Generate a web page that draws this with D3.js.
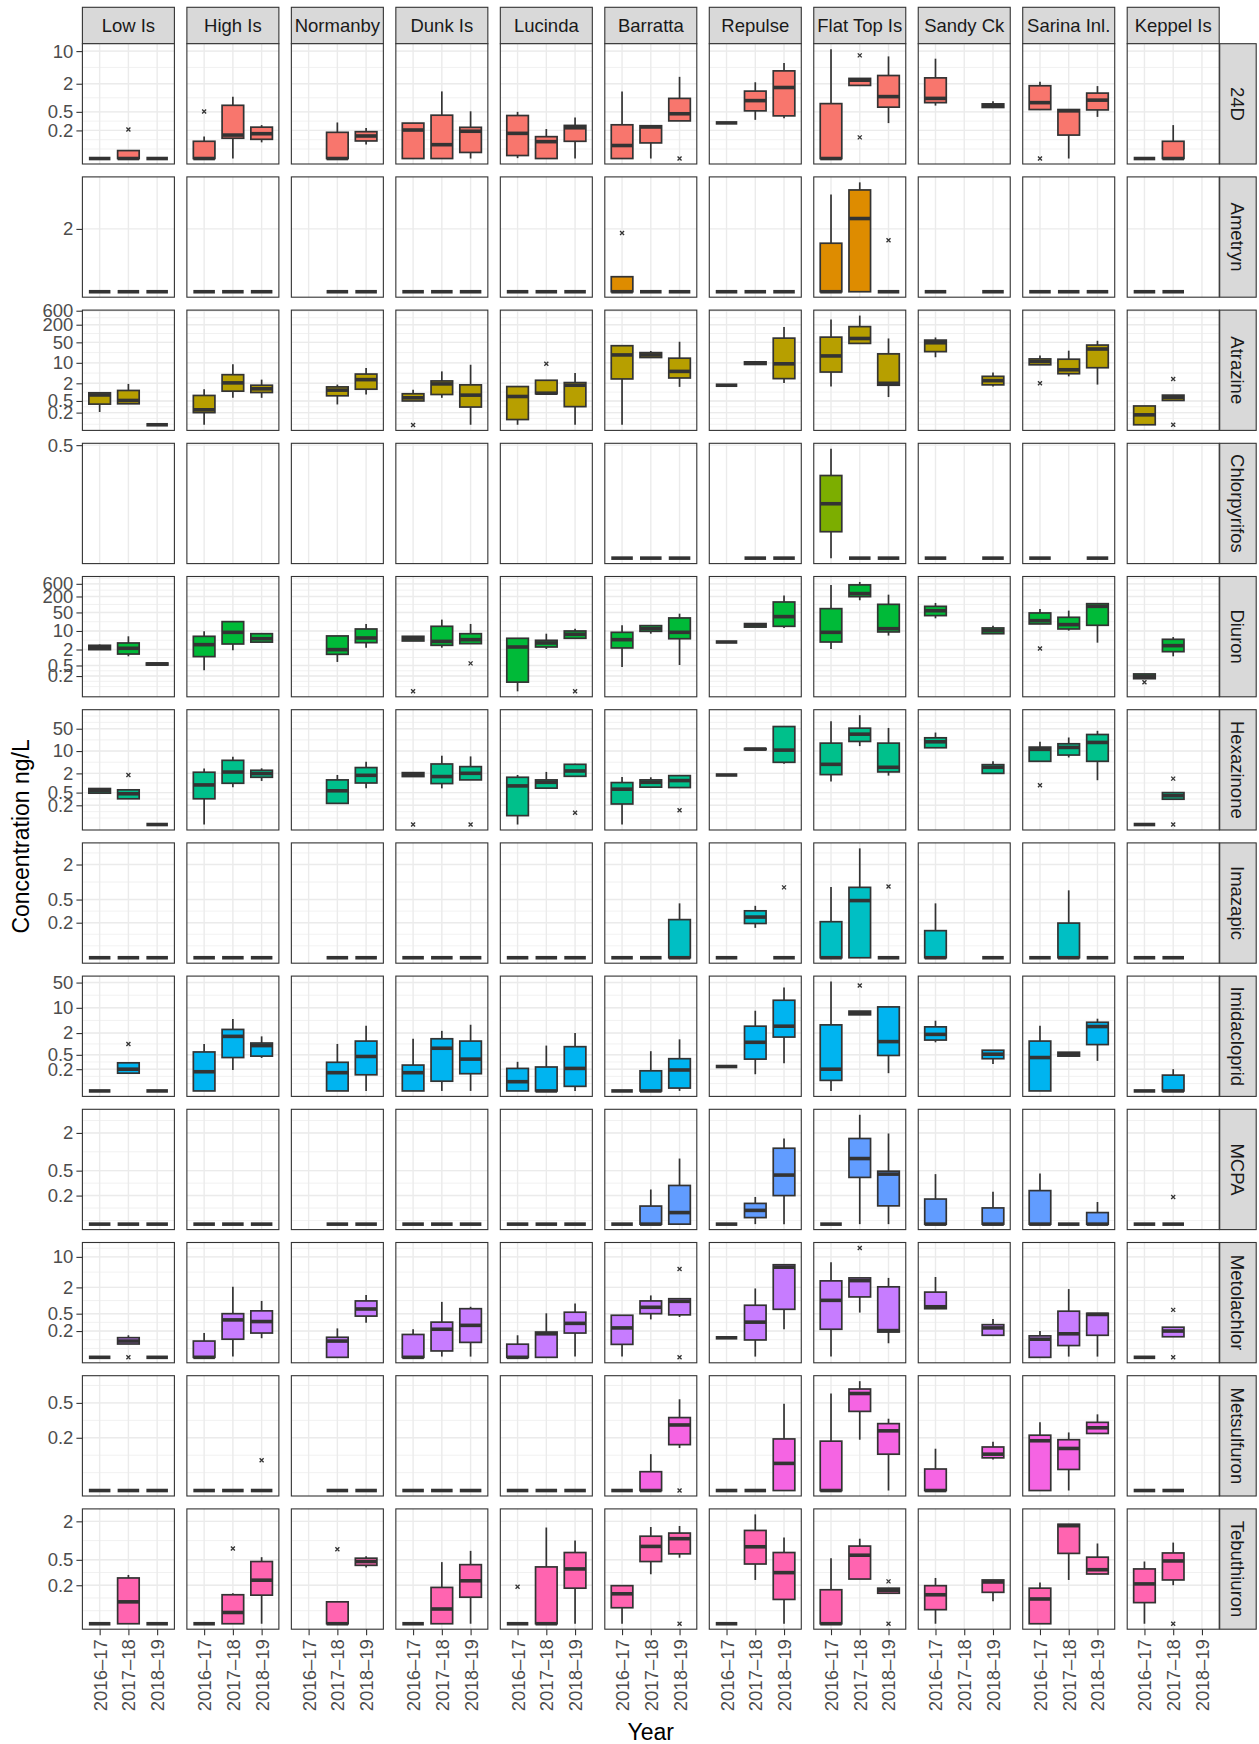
<!DOCTYPE html>
<html>
<head>
<meta charset="utf-8">
<script src="https://cdn.jsdelivr.net/npm/d3@7"></script>
<style>
  body { margin: 0; background: #ffffff; }
  svg { display: block; }
</style>
</head>
<body>
<script>
// ---------- categories ----------
const sites = ["Low Is", "High Is", "Normanby", "Dunk Is", "Lucinda", "Barratta",
               "Repulse", "Flat Top Is", "Sandy Ck", "Sarina Inl.", "Keppel Is"];
const years = ["2016–17", "2017–18", "2018–19"];
const analytes = ["24D", "Ametryn", "Atrazine", "Chlorpyrifos", "Diuron", "Hexazinone",
                  "Imazapic", "Imidacloprid", "MCPA", "Metolachlor", "Metsulfuron", "Tebuthiuron"];
const fillColours = ["#F8766D", "#DE8C00", "#B79F00", "#7CAE00", "#00BA38", "#00C08B",
                     "#00BFC4", "#00B4F0", "#619CFF", "#C77CFF", "#F564E3", "#FF64B0"];
const yBreaks = [0.2, 0.5, 2, 10, 50, 200, 600];

// ---------- box statistics (ng/L) ----------
// One row per site, one entry per year:
//   null   -> not sampled
//   number -> every sample at that value
//   [lower whisker, Q1, median, Q3, upper whisker, outliers?]
const s24D = [
  [0.05, [0.05,0.05,0.05,0.074,0.074,[0.21]], 0.05],
  [[0.05,0.05,0.05,0.117,0.149,[0.51]], [0.05,0.136,0.159,0.69,1.05], [0.111,0.129,0.17,0.235,0.26]],
  [null, [0.05,0.05,0.05,0.182,0.296], [0.10,0.119,0.152,0.188,0.226]],
  [[0.05,0.05,0.204,0.287,0.287], [0.05,0.05,0.099,0.424,1.37], [0.05,0.0675,0.192,0.233,0.514]],
  [[0.051,0.058,0.173,0.417,0.50], [0.05,0.05,0.115,0.147,0.214], [0.05,0.117,0.228,0.256,0.378]],
  [[0.05,0.05,0.095,0.264,1.37], [0.05,0.108,0.237,0.252,0.252], [0.32,0.32,0.455,0.97,2.81,[0.05]]],
  [0.29, [0.337,0.525,0.87,1.39,2.15], [0.365,0.41,1.66,3.77,5.56]],
  [[0.05,0.05,0.05,0.75,11.0], [1.84,1.84,2.38,2.6,2.6,[8.1,0.142]], [0.287,0.63,1.06,3.0,7.7]],
  [[0.68,0.787,0.97,2.67,6.88], null, [0.62,0.62,0.68,0.74,0.84]],
  [[0.56,0.56,0.787,1.81,2.2,[0.05]], [0.05,0.159,0.525,0.56,0.56], [0.39,0.55,0.89,1.26,1.78]],
  [0.05, [0.05,0.05,0.05,0.117,0.26], null]
];
const sAmetryn = [
  [0.6,0.6,0.6], [0.6,0.6,0.6], [null,0.6,0.6], [0.6,0.6,0.6], [0.6,0.6,0.6],
  [[0.6,0.6,0.6,0.8,0.8,[1.85]], 0.6, 0.6],
  [0.6,0.6,0.6],
  [[0.6,0.6,0.6,1.52,3.86], [0.6,0.6,2.44,4.22,4.88], [0.6,0.6,0.6,0.6,0.6,[1.61]]],
  [0.6,null,0.6], [0.6,0.6,0.6], [0.6,0.6,null]
];
const sAtrazine = [
  [[0.21,0.39,0.80,0.95,0.95], [0.40,0.40,0.52,1.14,1.91], 0.077],
  [[0.077,0.20,0.25,0.77,1.26], [0.64,1.08,2.07,3.94,9.0], [0.64,0.97,1.30,1.72,2.67]],
  [null, [0.38,0.75,1.17,1.51,1.81], [0.83,1.26,2.67,4.14,6.6]],
  [[0.50,0.50,0.64,0.88,1.20,[0.076]], [0.64,0.83,1.91,2.41,5.1], [0.077,0.31,0.79,1.77,8.6]],
  [[0.077,0.116,0.71,1.55,1.55], [0.88,0.88,0.92,2.54,2.54,[9.25]], [0.077,0.32,1.72,2.12,4.5]],
  [[0.077,2.82,18.6,38.4,40], [15.2,15.2,18.6,22.3,25.4], [1.51,3.04,5.1,14.4,52.4]],
  [1.72, [8.8,8.8,9.74,10.8,10.8], [2.07,2.89,9.25,69.6,167]],
  [[1.55,4.85,17.2,75.3,303], [46,46,67.8,172,410], [0.68,1.72,2.0,20.2,67.8]],
  [[15.5,24.1,48.4,59.6,73.4], null, [1.55,1.77,2.47,3.46,4.7]],
  [[8.57,8.57,11.1,13.6,17.7,[2.0]], [3.46,4.25,5.8,13.3,26], [1.81,6.8,29.6,40.4,56.5]],
  [[0.077,0.077,0.168,0.337,0.337], [0.52,0.52,0.66,0.79,0.79,[2.8,0.077]], null]
];
const sChlorpyrifos = [
  [null,null,null], [null,null,null], [null,null,null], [null,null,null], [null,null,null],
  [0.25,0.25,0.25],
  [null,0.25,0.25],
  [[0.25,0.294,0.349,0.415,0.489], 0.25, 0.25],
  [0.25,null,0.25],
  [0.25,null,0.25],
  [null,null,null]
];
const sDiuron = [
  [[1.98,1.98,2.35,2.88,3.1], [1.11,1.35,2.22,3.53,6.3], [0.52,0.52,0.57,0.62,0.62]],
  [[0.33,1.08,3.05,6.29,9.7], [1.87,3.23,8.9,22.5,22.5], [3.8,3.8,5.1,7.9,8.4]],
  [null, [0.68,1.32,1.98,6.5,6.5], [2.35,3.63,5.45,11.9,18.4]],
  [[4.2,4.2,5.1,6.29,6.29,[0.053]], [2.35,2.88,4.06,15,26.8], [3.33,3.33,4.71,7.9,18.4,[0.6]]],
  [[0.053,0.118,2.49,5.3,5.3], [2.1,2.49,3.53,4.45,7.9], [5.3,5.3,7.5,10,12.2,[0.053]]],
  [[0.44,2.29,4.7,8.9,16.4], [7.9,9.7,12.2,15.9,15.9], [0.52,5.1,8.9,31,45]],
  [3.84, [14,14,16.9,19,19], [13,15,34.8,124,216]],
  [[2.1,3.84,8.9,69.6,547], [144,197,257,547,705], [6.7,9.2,12.2,101,234]],
  [[30,38,58,85,114], null, [7.9,7.9,10.3,13,15.9]],
  [[18.4,18.4,24.5,47.8,67.8,[2.2]], [10.3,11.9,17.4,32.8,58.6], [3.63,16.4,85,107,107]],
  [[0.159,0.159,0.195,0.24,0.24,[0.117]], [1.11,1.66,2.8,4.85,5.9], null]
];
const sHexazinone = [
  [[0.48,0.48,0.57,0.67,0.67], [0.32,0.32,0.46,0.61,0.61,[1.78]], 0.05],
  [[0.05,0.32,0.87,2.17,2.82], [0.74,0.98,2.2,5.12,6.66], [1.16,1.51,1.97,2.5,2.88]],
  [null, [0.23,0.23,0.57,1.25,1.78], [0.69,1.0,1.74,3.04,4.66]],
  [[1.59,1.59,1.83,2.11,2.11,[0.05]], [0.68,0.96,1.59,3.94,7.15], [1.25,1.25,2.01,3.25,6.8,[0.05]]],
  [[0.05,0.095,0.81,1.51,1.78], [0.69,0.69,1.05,1.25,2.22], [1.62,1.62,2.38,3.84,4.0,[0.117]]],
  [[0.05,0.22,0.64,1.03,1.55], [0.74,0.74,1.05,1.25,1.51], [0.72,0.72,1.19,1.70,1.78,[0.14]]],
  [1.78, [11,11,11.5,12,12], [4.0,4.44,10.7,58.6,58.6]],
  [[1.11,1.83,3.84,17.7,86], [14.3,20,33.8,52,133], [1.70,2.22,3.1,17.7,53]],
  [[12.7,12.7,19.5,26,38], null, [2.0,2.0,3.1,3.75,4.8]],
  [[4.77,4.77,11.3,13.3,19.5,[0.85]], [6.3,7.5,13,16.9,26.6], [1.22,4.77,18.6,33,43]],
  [0.05, [0.31,0.31,0.4,0.5,0.5,[1.37,0.05]], null]
];
const sImazapic = [
  [0.05,0.05,0.05], [0.05,0.05,0.05], [null,0.05,0.05], [0.05,0.05,0.05], [0.05,0.05,0.05],
  [0.05, 0.05, [0.05,0.05,0.05,0.226,0.43]],
  [0.05, [0.163,0.194,0.25,0.32,0.39], [0.05,0.05,0.05,0.05,0.05,[0.81]]],
  [[0.05,0.05,0.05,0.208,0.82], [0.05,0.05,0.48,0.81,3.79], [0.05,0.05,0.05,0.05,0.05,[0.84]]],
  [[0.05,0.05,0.05,0.146,0.43], null, 0.05],
  [0.05, [0.05,0.05,0.05,0.197,0.72], 0.05],
  [0.05, 0.05, null]
];
const sImidacloprid = [
  [0.05, [0.155,0.155,0.20,0.30,0.30,[1.0]], 0.05],
  [[0.05,0.05,0.17,0.6,1.0], [0.19,0.42,1.62,2.52,4.9], [0.41,0.46,0.9,1.06,1.62]],
  [null, [0.05,0.05,0.16,0.31,1.0], [0.05,0.14,0.45,1.2,3.2]],
  [[0.05,0.05,0.16,0.26,1.39], [0.05,0.093,0.76,1.39,2.3], [0.05,0.15,0.38,1.2,3.4]],
  [[0.05,0.05,0.09,0.21,0.32], [0.05,0.05,0.05,0.23,0.9], [0.05,0.067,0.21,0.84,2.0]],
  [0.05, [0.05,0.05,0.05,0.18,0.63], [0.05,0.06,0.19,0.39,1.34]],
  [0.237, [0.145,0.38,1.11,3.1,8.3], [0.29,1.55,3.1,16.2,36.6]],
  [[0.05,0.098,0.2,3.37,53.3], [6.4,6.4,7.3,8.1,8.1,[41.5]], [0.155,0.48,1.16,10.6,10.6]],
  [[1.11,1.28,1.84,2.97,4.4], null, [0.28,0.39,0.52,0.67,0.67]],
  [[0.05,0.05,0.42,1.2,3.2], [0.46,0.46,0.52,0.59,0.59], [0.34,0.96,3.03,3.98,5.0]],
  [0.05, [0.05,0.05,0.05,0.137,0.2], null]
];
const sMCPA = [
  [0.07,0.07,0.07], [0.07,0.07,0.07], [null,0.07,0.07], [0.07,0.07,0.07], [0.07,0.07,0.07],
  [0.07, [0.07,0.07,0.07,0.136,0.25], [0.07,0.07,0.107,0.29,0.78]],
  [0.07, [0.07,0.089,0.116,0.15,0.19], [0.07,0.2,0.425,1.14,1.63]],
  [0.07, [0.07,0.39,0.78,1.63,3.9], [0.07,0.137,0.44,0.49,1.96]],
  [[0.07,0.07,0.07,0.176,0.44], null, [0.07,0.07,0.07,0.127,0.23]],
  [[0.07,0.07,0.07,0.24,0.45], 0.07, [0.07,0.07,0.07,0.107,0.158]],
  [0.07, [0.07,0.07,0.07,0.07,0.07,[0.19]], null]
];
const sMetolachlor = [
  [0.05, [0.101,0.101,0.118,0.141,0.16,[0.05]], 0.05],
  [[0.05,0.05,0.05,0.118,0.18], [0.052,0.13,0.36,0.5,2.06], [0.137,0.18,0.33,0.58,0.98]],
  [null, [0.05,0.05,0.118,0.144,0.23], [0.31,0.44,0.64,0.98,1.34]],
  [[0.05,0.05,0.05,0.167,0.22], [0.052,0.07,0.22,0.32,0.93], [0.052,0.11,0.27,0.65,0.72]],
  [[0.05,0.05,0.05,0.1,0.16], [0.05,0.05,0.173,0.19,0.51], [0.052,0.18,0.30,0.54,0.85]],
  [[0.052,0.099,0.236,0.46,0.46], [0.37,0.50,0.70,0.98,1.31], [0.42,0.47,0.96,1.1,1.1,[5.3,0.05]]],
  [0.14, [0.052,0.125,0.32,0.78,1.89], [0.22,0.63,5.8,6.6,6.6]],
  [[0.052,0.22,1.01,2.82,7.57], [0.53,1.21,2.86,3.3,3.3,[16]], [0.105,0.19,0.205,2.06,3.3]],
  [[0.65,0.65,0.72,1.56,3.46], null, [0.16,0.16,0.236,0.28,0.38]],
  [[0.05,0.05,0.13,0.155,0.2], [0.052,0.093,0.173,0.57,1.83], [0.052,0.16,0.48,0.51,0.51]],
  [0.05, [0.148,0.148,0.2,0.245,0.245,[0.61,0.05]], null]
];
const sMetsulfuron = [
  [0.05,0.05,0.05],
  [0.05, 0.05, [0.05,0.05,0.05,0.05,0.05,[0.111]]],
  [null,0.05,0.05],
  [0.05,0.05,0.05], [0.05,0.05,0.05],
  [0.05, [0.05,0.05,0.05,0.082,0.13], [0.153,0.167,0.28,0.34,0.55,[0.05]]],
  [0.05, 0.05, [0.05,0.05,0.102,0.194,0.49]],
  [[0.05,0.05,0.05,0.183,0.64], [0.19,0.4,0.64,0.72,0.885], [0.05,0.13,0.24,0.29,0.33]],
  [[0.05,0.05,0.05,0.088,0.15], null, [0.113,0.118,0.13,0.157,0.18]],
  [[0.05,0.05,0.185,0.214,0.30], [0.05,0.087,0.151,0.19,0.23], [0.224,0.224,0.26,0.30,0.37]],
  [0.05, 0.05, null]
];
const sTebuthiuron = [
  [0.05, [0.05,0.05,0.11,0.26,0.29], 0.05],
  [0.05, [0.05,0.05,0.075,0.142,0.15,[0.75]], [0.05,0.14,0.24,0.47,0.55]],
  [null, [0.05,0.05,0.05,0.11,0.11,[0.73]], [0.38,0.41,0.47,0.53,0.57]],
  [0.05, [0.05,0.05,0.085,0.185,0.46], [0.05,0.13,0.235,0.42,0.69]],
  [[0.05,0.05,0.05,0.05,0.05,[0.19]], [0.05,0.05,0.05,0.387,1.6], [0.05,0.18,0.36,0.65,1.0]],
  [[0.05,0.089,0.147,0.197,0.197], [0.297,0.47,0.81,1.17,1.63], [0.54,0.62,1.07,1.31,1.69,[0.05]]],
  [0.05, [0.242,0.43,0.80,1.44,2.57], [0.05,0.12,0.315,0.65,1.12]],
  [[0.05,0.05,0.05,0.17,0.53], [0.25,0.25,0.59,0.82,1.07], [0.15,0.15,0.167,0.18,0.18,[0.23,0.05]]],
  [[0.05,0.083,0.142,0.197,0.26], null, [0.112,0.155,0.225,0.242,0.242]],
  [[0.05,0.05,0.122,0.18,0.22], [0.242,0.63,1.71,1.8,1.8], [0.30,0.30,0.35,0.55,0.90]],
  [[0.05,0.107,0.21,0.36,0.47], [0.2,0.242,0.48,0.64,0.93,[0.05]], null]
];

const statsByAnalyte = [s24D, sAmetryn, sAtrazine, sChlorpyrifos, sDiuron, sHexazinone,
                        sImazapic, sImidacloprid, sMCPA, sMetolachlor, sMetsulfuron, sTebuthiuron];

// ---------- layout ----------
const W = 1259, H = 1744;
const FONT = "'Liberation Sans', Arial, Helvetica, sans-serif";
const panelX0 = 82.4, panelW = 92, colStep = 104.48;
const panelY0 = 43.7, panelH = 120.3, rowStep = 133.2;
const stripTopY = 7.3, stripTopH = 36.4, stripRightW = 36.5;
const ink = "#333333", gridCol = "#EBEBEB";

const svg = d3.select("body").append("svg")
  .attr("width", W).attr("height", H)
  .style("font-family", FONT);

const x = d3.scalePoint().domain(years).range([0, panelW]).padding(0.6);
const boxW = x.step() * 0.75;

function unpack(e) {
  if (e == null) return null;
  if (typeof e === "number") return { lo: e, q1: e, med: e, q3: e, hi: e, out: [] };
  return { lo: e[0], q1: e[1], med: e[2], q3: e[3], hi: e[4], out: e[5] || [] };
}

// minor breaks halfway between major breaks (in log space), extended one step past the ends
function minorBreaks(majors, lo, hi) {
  const b = majors.slice();
  if (b.length < 2) return [];
  const bd = b[1] - b[0];
  if (lo < b[0]) b.unshift(b[0] - bd);
  if (hi > b[b.length - 1]) b.push(b[b.length - 1] + bd);
  const out = [];
  for (let i = 0; i < b.length - 1; i++) out.push(b[i], (b[i] + b[i + 1]) / 2);
  out.push(b[b.length - 1]);
  return out.filter(v => v >= lo && v <= hi);
}

// ---------- top strips ----------
sites.forEach((site, c) => {
  const px = panelX0 + c * colStep;
  svg.append("rect")
    .attr("x", px).attr("y", stripTopY).attr("width", panelW).attr("height", stripTopH)
    .attr("fill", "#D9D9D9").attr("stroke", ink).attr("stroke-width", 1.1);
  svg.append("text")
    .attr("x", px + panelW / 2).attr("y", stripTopY + stripTopH / 2)
    .attr("text-anchor", "middle").attr("dominant-baseline", "central")
    .attr("fill", "#1A1A1A").style("font-size", "18.5px")
    .text(site);
});

// ---------- rows ----------
analytes.forEach((analyte, r) => {
  const stats = statsByAnalyte[r];
  const py = panelY0 + r * rowStep;

  // free y scale per row: data extent on a log axis, widened 5% each side
  const vals = [];
  stats.forEach(site => site.forEach(e => {
    const b = unpack(e);
    if (b) vals.push(b.lo, b.hi, ...b.out);
  }));
  const [mn, mx] = d3.extent(vals);
  const l0 = Math.log10(mn), l1 = Math.log10(mx), pad = (l1 - l0) * 0.05;
  const lo = l0 - pad, hi = l1 + pad;
  const y = d3.scaleLog().domain([10 ** lo, 10 ** hi]).range([panelH, 0]);
  const majors = yBreaks.filter(v => Math.log10(v) >= lo && Math.log10(v) <= hi);
  const minors = minorBreaks(majors.map(v => Math.log10(v)), lo, hi);

  sites.forEach((site, c) => {
    const px = panelX0 + c * colStep;
    const g = svg.append("g").attr("transform", `translate(${px},${py})`);

    g.append("rect").attr("width", panelW).attr("height", panelH).attr("fill", "#fff");

    g.selectAll("line.minor").data(minors).join("line")
      .attr("x1", 0).attr("x2", panelW)
      .attr("y1", d => y(10 ** d)).attr("y2", d => y(10 ** d))
      .attr("stroke", gridCol).attr("stroke-width", 0.7);
    g.selectAll("line.major").data(majors).join("line")
      .attr("x1", 0).attr("x2", panelW)
      .attr("y1", d => y(d)).attr("y2", d => y(d))
      .attr("stroke", gridCol).attr("stroke-width", 1.4);
    g.selectAll("line.vgrid").data(years).join("line")
      .attr("x1", d => x(d)).attr("x2", d => x(d))
      .attr("y1", 0).attr("y2", panelH)
      .attr("stroke", gridCol).attr("stroke-width", 1.4);

    const boxes = stats[c].map((e, i) => ({ year: years[i], b: unpack(e) })).filter(d => d.b);

    boxes.forEach(({ year, b }) => {
      const cx = x(year);
      const bg = g.append("g");
      // outliers
      b.out.forEach(v => {
        bg.append("path")
          .attr("transform", `translate(${cx},${y(v)})`)
          .attr("d", "M-2,-2L2,2M-2,2L2,-2")
          .attr("stroke", ink).attr("stroke-width", 1.3).attr("fill", "none");
      });
      // whiskers
      bg.append("line").attr("x1", cx).attr("x2", cx)
        .attr("y1", y(b.hi)).attr("y2", y(b.q3))
        .attr("stroke", ink).attr("stroke-width", 1.7);
      bg.append("line").attr("x1", cx).attr("x2", cx)
        .attr("y1", y(b.q1)).attr("y2", y(b.lo))
        .attr("stroke", ink).attr("stroke-width", 1.7);
      // box
      bg.append("rect")
        .attr("x", cx - boxW / 2).attr("width", boxW)
        .attr("y", y(b.q3)).attr("height", Math.max(0, y(b.q1) - y(b.q3)))
        .attr("fill", fillColours[r]).attr("stroke", ink).attr("stroke-width", 1.7);
      // median
      bg.append("line")
        .attr("x1", cx - boxW / 2).attr("x2", cx + boxW / 2)
        .attr("y1", y(b.med)).attr("y2", y(b.med))
        .attr("stroke", ink).attr("stroke-width", 3.6);
    });

    g.append("rect").attr("width", panelW).attr("height", panelH)
      .attr("fill", "none").attr("stroke", ink).attr("stroke-width", 1.1);

    // left axis on first column
    if (c === 0) {
      const ax = g.append("g").call(
        d3.axisLeft(y).tickValues(majors).tickFormat(d => String(d)).tickSize(6).tickPadding(3));
      ax.select(".domain").remove();
      ax.attr("font-family", FONT).attr("font-size", 18.5);
      ax.selectAll(".tick line").attr("stroke", ink).attr("stroke-width", 1.1);
      ax.selectAll(".tick text").attr("fill", "#4D4D4D");
    }

    // bottom axis on last row
    if (r === analytes.length - 1) {
      const ax = g.append("g").attr("transform", `translate(0,${panelH})`)
        .call(d3.axisBottom(x).tickSize(6).tickPadding(4));
      ax.select(".domain").remove();
      ax.attr("font-family", FONT).attr("font-size", 18.5);
      ax.selectAll(".tick line").attr("stroke", ink).attr("stroke-width", 1.1);
      ax.selectAll(".tick text")
        .attr("fill", "#4D4D4D")
        .attr("transform", "rotate(-90)")
        .attr("text-anchor", "end")
        .attr("x", -10).attr("y", 0).attr("dy", "0.35em");
    }
  });

  // right strip with analyte name
  const sx = panelX0 + (sites.length - 1) * colStep + panelW + 0.5;
  svg.append("rect")
    .attr("x", sx).attr("y", py).attr("width", stripRightW).attr("height", panelH)
    .attr("fill", "#D9D9D9").attr("stroke", ink).attr("stroke-width", 1.1);
  svg.append("text")
    .attr("transform", `translate(${sx + stripRightW / 2},${py + panelH / 2}) rotate(90)`)
    .attr("text-anchor", "middle").attr("dominant-baseline", "central")
    .attr("fill", "#1A1A1A").style("font-size", "18.5px")
    .text(analyte);
});

// ---------- axis titles ----------
const plotMidX = panelX0 + ((sites.length - 1) * colStep + panelW) / 2;
const plotMidY = panelY0 + ((analytes.length - 1) * rowStep + panelH) / 2;
svg.append("text")
  .attr("x", plotMidX).attr("y", 1740)
  .attr("text-anchor", "middle").attr("fill", "#000").style("font-size", "23px")
  .text("Year");
svg.append("text")
  .attr("transform", `translate(21,${plotMidY}) rotate(-90)`)
  .attr("text-anchor", "middle").attr("dominant-baseline", "central")
  .attr("fill", "#000").style("font-size", "23px")
  .text("Concentration ng/L");
</script>
</body>
</html>
